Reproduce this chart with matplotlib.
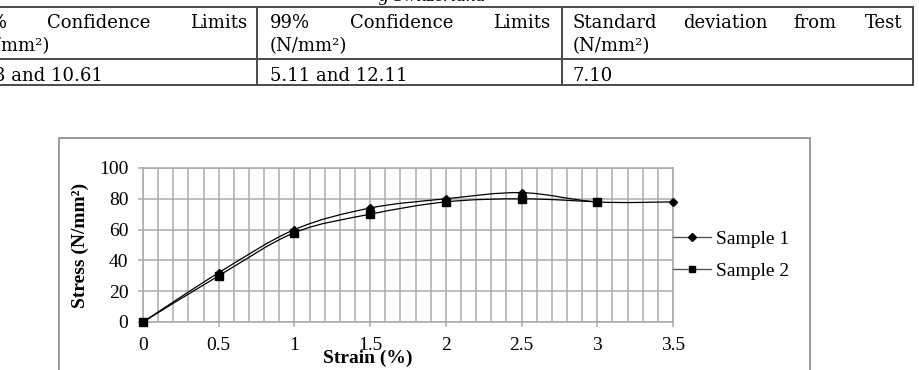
import matplotlib
matplotlib.use('Agg')
import matplotlib.pyplot as plt
from matplotlib.path import Path
from matplotlib.patches import PathPatch, Rectangle
from matplotlib.lines import Line2D
import numpy as np

# ---------------- data ----------------
strain_1 = [0, 0.5, 1, 1.5, 2, 2.5, 3, 3.5]
stress_1 = [0, 32, 60, 74, 80, 84, 78, 78]
strain_2 = [0, 0.5, 1, 1.5, 2, 2.5, 3]
stress_2 = [0, 30, 58, 70, 78, 80, 78]
series_labels = ['Sample 1', 'Sample 2']
x_ticks = [0, 0.5, 1, 1.5, 2, 2.5, 3, 3.5]
x_tick_labels = ['0', '0.5', '1', '1.5', '2', '2.5', '3', '3.5']
y_ticks = [0, 20, 40, 60, 80, 100]
y_tick_labels = ['0', '20', '40', '60', '80', '100']
x_label = 'Strain (%)'
y_label = 'Stress (N/mm²)'
caption_top = 'g Switzerland'
table_row1 = ['95% Confidence Limits (N/mm²)', '99% Confidence Limits (N/mm²)',
              'Standard deviation from Test (N/mm²)']
table_row2 = ['3 and 10.61', '5.11 and 12.11', '7.10']

W, H = 920, 370
fig = plt.figure(figsize=(W / 100, H / 100), dpi=100)
fig.patch.set_facecolor('white')


def fx(x):
    return x / W


def fy(y):
    return 1 - y / H


SERIF = ['Liberation Serif', 'DejaVu Serif']
TFONT = ['DejaVu Serif']
TSIZE = 13.0

# ---------------- table (top) ----------------
fig.text(fx(432), fy(1), caption_top, ha='center', va='baseline',
         family=SERIF, style='italic', fontsize=14)

tcol = '#4a4a4a'
for y in (7, 59, 85):
    fig.add_artist(Line2D([fx(0), fx(913)], [fy(y), fy(y)], transform=fig.transFigure,
                          color=tcol, lw=1.4))
for x in (257, 562, 913):
    fig.add_artist(Line2D([fx(x), fx(x)], [fy(7), fy(85)], transform=fig.transFigure,
                          color=tcol, lw=1.4))


def tt(x, y, s, ha='left'):
    fig.text(fx(x), fy(y), s, ha=ha, va='baseline', family=TFONT, fontsize=TSIZE)


# header line 1 (justified words)
h1 = [w.split() for w in table_row1]
tt(8, 28, h1[0][0], 'right')
tt(99, 28, h1[0][1], 'center')
tt(247, 28, h1[0][2], 'right')
tt(270, 28, h1[1][0])
tt(402, 28, h1[1][1], 'center')
tt(550, 28, h1[1][2], 'right')
tt(573, 28, h1[2][0])
tt(725, 28, h1[2][1], 'center')
tt(815, 28, h1[2][2], 'center')
tt(902, 28, h1[2][3], 'right')
# header line 2
tt(50, 51, h1[0][3], 'right')
tt(270, 51, h1[1][3])
tt(573, 51, h1[2][4])
# row 2
tt(103, 81, table_row2[0], 'right')
tt(270, 81, table_row2[1])
tt(573, 81, table_row2[2])

# ---------------- chart frame ----------------
fig.add_artist(Rectangle((fx(59), fy(380)), fx(810) - fx(59), fy(138) - fy(380),
                         transform=fig.transFigure, fill=False, edgecolor='#9a9a9a', lw=1.4))

# ---------------- chart ----------------
ax = fig.add_axes([fx(143), fy(322), fx(673) - fx(143), fy(168) - fy(322)])
ax.set_facecolor('white')
ax.set_xlim(0, 3.5)
ax.set_ylim(0, 100)

gc = '#ababab'
ax.set_xticks(x_ticks)
ax.set_xticklabels(x_tick_labels)
ax.set_xticks(np.arange(0, 3.55, 0.1), minor=True)
ax.set_yticks(y_ticks)
ax.set_yticklabels(y_tick_labels)
ax.grid(which='both', axis='x', color=gc, lw=1.1)
ax.grid(which='major', axis='y', color=gc, lw=1.1)
ax.set_axisbelow(True)
for sp in ax.spines.values():
    sp.set_color(gc)
    sp.set_linewidth(1.1)
ax.tick_params(which='major', length=3.6, width=1.1, color=gc, direction='out',
               labelsize=14, pad=7)
ax.tick_params(which='minor', length=0)
for lab in ax.get_xticklabels() + ax.get_yticklabels():
    lab.set_family(SERIF)


def smooth_path(xs, ys):
    pts = np.column_stack([xs, ys]).astype(float)
    n = len(pts)
    verts = [pts[0]]
    codes = [Path.MOVETO]
    for i in range(n - 1):
        p0 = pts[i - 1] if i > 0 else pts[i]
        p1 = pts[i]
        p2 = pts[i + 1]
        p3 = pts[i + 2] if i + 2 < n else pts[i + 1]
        verts += [p1 + (p2 - p0) / 6.0, p2 - (p3 - p1) / 6.0, p2]
        codes += [Path.CURVE4] * 3
    return Path(verts, codes)


for xs, ys in ((strain_1, stress_1), (strain_2, stress_2)):
    ax.add_patch(PathPatch(smooth_path(xs, ys), fill=False, edgecolor='black', lw=0.9,
                           zorder=3))
ax.plot(strain_1, stress_1, ls='none', marker='D', ms=4.2, color='black', zorder=4,
        clip_on=False)
ax.plot(strain_2, stress_2, ls='none', marker='s', ms=5.2, color='black', zorder=4,
        clip_on=False)

handles = [Line2D([], [], color='#555555', lw=1.0, marker='D', ms=3.6, mfc='black', mec='black'),
           Line2D([], [], color='#555555', lw=1.0, marker='s', ms=4.6, mfc='black', mec='black')]
ax.legend(handles, series_labels, loc='center left', bbox_to_anchor=(fx(673), fy(255)),
          bbox_transform=fig.transFigure, frameon=False, borderpad=0, borderaxespad=0,
          handlelength=1.96, handletextpad=0.26, labelspacing=0.72, numpoints=1,
          prop={'family': SERIF, 'size': 14})

fig.text(fx(80), fy(245.5), y_label, rotation=90, ha='center', va='center',
         family=SERIF, fontweight='bold', fontsize=14)
fig.text(fx(368), fy(358), x_label, ha='center', va='center',
         family=SERIF, fontweight='bold', fontsize=14)

fig.savefig('out.png', dpi=100, facecolor='white')
